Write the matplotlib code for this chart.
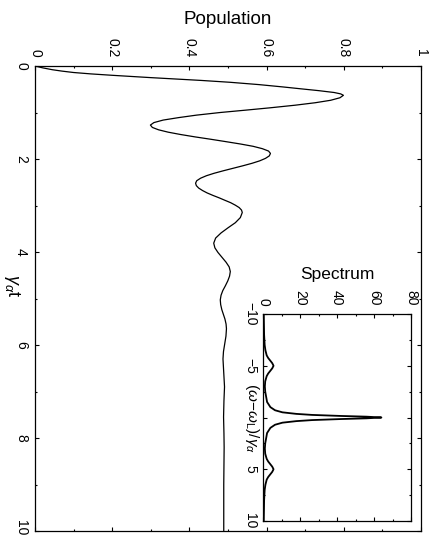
import numpy as np
import matplotlib
matplotlib.use("Agg")
from matplotlib import pyplot as plt
from matplotlib.ticker import MultipleLocator
from matplotlib.transforms import ScaledTranslation

plt.rcParams['font.family'] = ['Liberation Sans', 'DejaVu Sans']
plt.rcParams['mathtext.fontset'] = 'custom'
plt.rcParams['mathtext.rm'] = 'Liberation Sans'
plt.rcParams['mathtext.it'] = 'Liberation Sans:italic'

# population vs gamma_alpha * t
t = [0.00, 0.04, 0.08, 0.11, 0.14, 0.17, 0.20, 0.225, 0.25, 0.28, 0.31, 0.35,
     0.40, 0.45, 0.49, 0.53, 0.57, 0.60, 0.63, 0.683, 0.737, 0.79, 0.843,
     0.90, 0.95, 1.00, 1.057, 1.11, 1.163, 1.217, 1.27, 1.321, 1.372, 1.423,
     1.473, 1.525, 1.575, 1.626, 1.677, 1.727, 1.778, 1.829, 1.88, 1.933,
     1.987, 2.04, 2.093, 2.147, 2.20, 2.253, 2.307, 2.36, 2.413, 2.467, 2.52,
     2.573, 2.625, 2.678, 2.73, 2.783, 2.835, 2.888, 2.94, 2.993, 3.045,
     3.098, 3.15, 3.26, 3.37, 3.48, 3.59, 3.70, 3.81, 3.91, 4.01, 4.12, 4.22,
     4.32, 4.42, 4.52, 4.62, 4.73, 4.83, 4.93, 5.03, 5.13, 5.24, 5.34, 5.44,
     5.55, 5.65, 5.81, 5.975, 6.14, 6.30, 6.60, 6.90, 7.20, 7.55, 7.90, 8.20,
     8.60, 9.00, 9.50, 10.00]
pop = [0.000, 0.020, 0.045, 0.070, 0.100, 0.145, 0.200, 0.250, 0.300, 0.365,
       0.430, 0.505, 0.580, 0.642, 0.688, 0.735, 0.775, 0.792, 0.799, 0.790,
       0.766, 0.726, 0.674, 0.608, 0.545, 0.480, 0.418, 0.372, 0.332, 0.308,
       0.299, 0.304, 0.320, 0.345, 0.377, 0.415, 0.455, 0.494, 0.532, 0.565,
       0.589, 0.605, 0.610, 0.607, 0.597, 0.582, 0.562, 0.538, 0.513, 0.488,
       0.464, 0.444, 0.429, 0.419, 0.416, 0.418, 0.424, 0.434, 0.446, 0.461,
       0.477, 0.492, 0.507, 0.519, 0.529, 0.535, 0.537, 0.532, 0.519, 0.500,
       0.482, 0.468, 0.463, 0.466, 0.474, 0.485, 0.495, 0.503, 0.506, 0.504,
       0.4995, 0.493, 0.4865, 0.482, 0.480, 0.481, 0.484, 0.488, 0.492, 0.495,
       0.496, 0.4947, 0.4915, 0.4883, 0.487, 0.489, 0.491, 0.4895, 0.4885,
       0.4895, 0.490, 0.4895, 0.489, 0.489, 0.489]

# spectrum vs (omega - omega_L)/gamma_alpha
w = [-10.0, -9.0, -8.0, -7.0, -6.5, -6.0, -5.75, -5.5, -5.25, -5.0, -4.75,
     -4.5, -4.25, -4.0, -3.5, -3.0, -2.5, -2.0, -1.5, -1.0, -0.7, -0.5, -0.35,
     -0.25, -0.15, -0.08, 0.0, 0.08, 0.15, 0.25, 0.35, 0.5, 0.7, 1.0, 1.5,
     2.0, 2.5, 3.0, 3.5, 4.0, 4.25, 4.5, 4.75, 5.0, 5.25, 5.5, 5.75, 6.0, 6.5,
     7.0, 8.0, 9.0, 10.0]
spec = [0.4, 0.5, 0.6, 0.9, 1.3, 2.0, 2.8, 3.9, 5.0, 5.7, 5.0, 3.9, 2.8, 2.0,
        1.2, 1.0, 1.2, 1.7, 2.2, 4.0, 6.5, 10.5, 18.0, 26.5, 42.0, 56.0, 64.0,
        56.0, 42.0, 26.5, 18.0, 10.5, 6.5, 4.0, 2.2, 1.7, 1.2, 1.0, 1.2, 2.0,
        2.8, 3.9, 5.0, 5.7, 5.0, 3.9, 2.8, 2.0, 1.3, 0.9, 0.6, 0.5, 0.4]

pop_ticks = [0, 0.2, 0.4, 0.6, 0.8, 1]
pop_labels = ['0', '0.2', '0.4', '0.6', '0.8', '1']
t_ticks = [0, 2, 4, 6, 8, 10]
t_labels = ['0', '2', '4', '6', '8', '10']
spec_ticks = [0, 20, 40, 60, 80]
spec_labels = ['0', '20', '40', '60', '80']
w_ticks = [-10, -5, 0, 5, 10]
w_labels = ['\u221210', '\u22125', '', '5', '10']

W, H = 429, 537
fig = plt.figure(figsize=(W / 100, H / 100), dpi=100)


def box(l, t_, r, b):
    return [l / W, 1 - b / H, (r - l) / W, (b - t_) / H]


def style(ax, xpad, ypad, xminor, yminor):
    ax.xaxis.set_minor_locator(MultipleLocator(xminor))
    ax.yaxis.set_minor_locator(MultipleLocator(yminor))
    ax.tick_params(which='both', direction='in', top=True, bottom=True,
                   left=True, right=True, labeltop=True, labelbottom=False,
                   width=0.8, labelsize=10)
    ax.tick_params(which='major', length=3)
    ax.tick_params(which='minor', length=1.7)
    ax.tick_params(axis='x', pad=xpad)
    ax.tick_params(axis='y', pad=ypad)
    for lab in ax.get_xticklabels():
        lab.set_rotation(-90)
        lab.set_ha('center')
        lab.set_va('bottom')
    for lab in ax.get_yticklabels():
        lab.set_rotation(-90)
        lab.set_ha('right')
        lab.set_va('center')
    for s in ax.spines.values():
        s.set_linewidth(0.9)


# main panel: time runs downwards, population to the right
ax = fig.add_axes(box(35, 66, 421, 531))
ax.plot(pop, t, color='black', lw=0.9)
ax.set_xlim(0, 1)
ax.set_ylim(10, 0)
ax.set_xticks(pop_ticks)
ax.set_xticklabels(pop_labels)
ax.set_yticks(t_ticks)
ax.set_yticklabels(t_labels)
style(ax, 6.5, 5, 0.1, 1)
# nudge the last time label up so it stays inside the figure
last = ax.get_yticklabels()[-1]
last.set_transform(last.get_transform()
                   + ScaledTranslation(0, 3 / 100, fig.dpi_scale_trans))
fig.text(228 / W, 1 - 20 / H, 'Population', ha='center', va='center',
         fontsize=13.5)
fig.text(12 / W, 1 - 286 / H, r'$\gamma_\alpha\mathrm{t}$', ha='center',
         va='center', rotation=-90, fontsize=13)

# inset: spectrum
ins = fig.add_axes(box(263, 314, 411, 521))
ins.set_facecolor('white')
ins.plot(spec, w, color='black', lw=1.3)
ins.set_xlim(0, 80)
ins.set_ylim(10, -10)
ins.set_xticks(spec_ticks)
ins.set_xticklabels(spec_labels)
ins.set_yticks(w_ticks)
ins.set_yticklabels(w_labels)
style(ins, 6, 4.3, 10, 2.5)
fig.text(337 / W, 1 - 274 / H, 'Spectrum', ha='center', va='center',
         fontsize=12.5)
fig.text(252 / W, 1 - 418 / H, r'$(\omega\!-\!\omega_\mathrm{L})/\gamma_\alpha$',
         ha='center', va='center', rotation=-90, fontsize=11)

fig.savefig('out.png', dpi=100)
